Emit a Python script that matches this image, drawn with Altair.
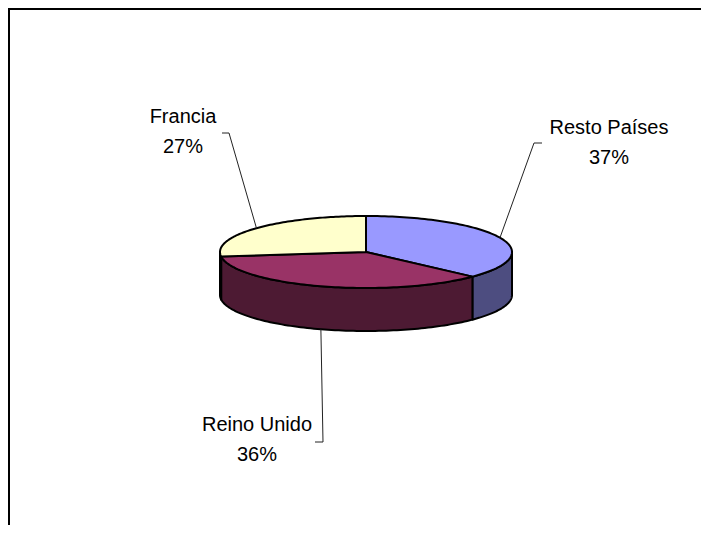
import altair as alt
import pandas as pd

# ---- data ----
categories = ["Resto Países", "Reino Unido", "Francia"]
shares = [37, 36, 27]

# ---- styles ----
top_colors = ["#9999FF", "#993366", "#FFFFCC"]
side_colors = ["#4D4D80", "#4D1A33", "#80806A"]

# ---- layout (page pixels) ----
CX, CY, A, B, DEPTH = 366, 252, 146, 36, 43
N = 90
label_layout = pd.DataFrame({
    "cat": categories,
    "lx": [609, 257, 183],
    "ly": [128, 425, 117],
    "ex": [534, 323, 229],
    "ey": [143, 442, 133],
    "tx": [542, 315, 222],
    "ty": [143, 442, 133],
})

df = pd.DataFrame({"cat": categories, "share": shares, "order": list(range(len(categories)))})

xs = alt.Scale(domain=[8, 701], nice=False, zero=False)
ys = alt.Scale(domain=[8, 525], nice=False, zero=False, reverse=True)

base = (
    alt.Chart(df)
    .transform_joinaggregate(total="sum(share)")
    .transform_window(cum="sum(share)", sort=[alt.SortField("order")], frame=[None, 0])
    .transform_calculate(
        t0="2*PI*(datum.cum - datum.share)/datum.total",
        t1="2*PI*datum.cum/datum.total",
        pct="round(100*datum.share/datum.total) + '%'",
    )
)

# side walls (front half only) as closed polygons
side = (
    base.transform_calculate(s0="max(datum.t0, PI/2)", s1="min(datum.t1, 3*PI/2)")
    .transform_filter("datum.s1 > datum.s0")
    .transform_calculate(idx=f"sequence(0, {2 * N + 3})")
    .transform_flatten(["idx"])
    .transform_calculate(
        j=f"datum.idx <= {N} ? datum.idx : (datum.idx <= {2 * N + 1} ? {2 * N + 1} - datum.idx : 0)",
        low=f"datum.idx > {N} && datum.idx <= {2 * N + 1}",
    )
    .transform_calculate(t=f"datum.s0 + (datum.s1 - datum.s0) * datum.j / {N}")
    .transform_calculate(
        px=f"{CX} + {A} * sin(datum.t)",
        py=f"{CY} - {B} * cos(datum.t) + (datum.low ? {DEPTH} : 0)",
    )
    .mark_line(stroke="black", strokeWidth=2, strokeJoin="round")
    .encode(
        x=alt.X("px:Q", scale=xs, axis=None),
        y=alt.Y("py:Q", scale=ys, axis=None),
        fill=alt.Fill("cat:N", scale=alt.Scale(domain=categories, range=side_colors), legend=None),
        detail="cat:N",
        order="idx:Q",
    )
)

# top faces
top = (
    base.transform_calculate(idx=f"sequence(0, {N + 3})")
    .transform_flatten(["idx"])
    .transform_calculate(
        t=f"datum.t0 + (datum.t1 - datum.t0) * clamp(datum.idx - 1, 0, {N}) / {N}",
        isc=f"datum.idx == 0 || datum.idx == {N + 2}",
    )
    .transform_calculate(
        px=f"datum.isc ? {CX} : {CX} + {A} * sin(datum.t)",
        py=f"datum.isc ? {CY} : {CY} - {B} * cos(datum.t)",
    )
    .mark_line(stroke="black", strokeWidth=2, strokeJoin="round")
    .encode(
        x=alt.X("px:Q", scale=xs, axis=None),
        y=alt.Y("py:Q", scale=ys, axis=None),
        fill=alt.Fill("cat:N", scale=alt.Scale(domain=categories, range=top_colors), legend=None),
        detail="cat:N",
        order="idx:Q",
    )
)

labeled = base.transform_lookup(
    lookup="cat",
    from_=alt.LookupData(label_layout, "cat", ["lx", "ly", "ex", "ey", "tx", "ty"]),
).transform_calculate(tm="(datum.t0 + datum.t1) / 2")

leaders = (
    labeled.transform_calculate(idx="sequence(0, 3)")
    .transform_flatten(["idx"])
    .transform_calculate(
        px=f"datum.idx == 0 ? {CX} + {A} * sin(datum.tm) : (datum.idx == 1 ? datum.ex : datum.tx)",
        py=f"datum.idx == 0 ? {CY} - {B} * cos(datum.tm) + (cos(datum.tm) < 0 ? {DEPTH} : 0) : (datum.idx == 1 ? datum.ey : datum.ty)",
    )
    .mark_line(color="#222222", strokeWidth=1)
    .encode(
        x=alt.X("px:Q", scale=xs, axis=None),
        y=alt.Y("py:Q", scale=ys, axis=None),
        detail="cat:N",
        order="idx:Q",
    )
)

labels = (
    labeled.transform_calculate(label="datum.cat + '\\n' + datum.pct")
    .mark_text(font="Liberation Sans", fontSize=20, lineBreak="\n", lineHeight=30,
               align="center", baseline="middle", color="black")
    .encode(
        x=alt.X("lx:Q", scale=xs, axis=None),
        y=alt.Y("ly:Q", scale=ys, axis=None),
        text="label:N",
    )
)

dummy = alt.Chart(pd.DataFrame({"a": [0]}))
frame_left = dummy.mark_rule(color="black", strokeWidth=2).encode(
    x=alt.value(1), y=alt.value(0), y2=alt.value(600)
)
frame_top = dummy.mark_rule(color="black", strokeWidth=2).encode(
    x=alt.value(0), x2=alt.value(800), y=alt.value(1)
)

chart = (
    alt.layer(frame_left, frame_top, side, top, leaders, labels)
    .resolve_scale(fill="independent")
    .properties(width=693, height=517, padding=0, autosize=alt.AutoSizeParams(type="none"))
    .configure_view(stroke=None)
    .configure(background="white")
)

chart.save("out.html", embed_options={"renderer": "svg", "actions": False})
